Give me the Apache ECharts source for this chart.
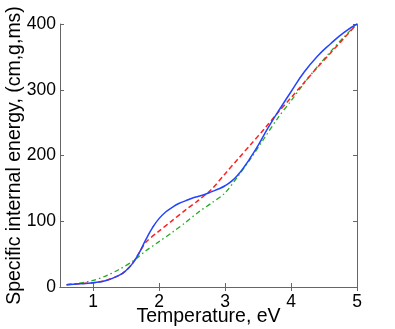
<!DOCTYPE html>
<html>
<head>
<meta charset="utf-8">
<script src="https://cdn.jsdelivr.net/npm/echarts@6/dist/echarts.min.js"></script>
<style>
  html, body { margin: 0; padding: 0; background: #fff; }
  #chart { width: 395px; height: 329px; }
</style>
</head>
<body>
<div id="chart"></div>
<script>
// temperature (eV) and energy values
var blueT = [0.6, 0.8, 1.0, 1.2, 1.4, 1.5, 1.6, 1.7, 1.8, 1.9, 2.0, 2.1, 2.2, 2.3, 2.4, 2.5, 2.6, 2.7, 2.8, 2.9, 3.0, 3.1, 3.2, 3.3, 3.4, 3.5, 3.6, 3.7, 3.8, 4.0, 4.2, 4.4, 4.6, 4.8, 5.0];
var blueE = [3.5, 5, 6.5, 10, 18, 25, 36, 52, 72, 90, 104, 114, 121, 127, 131, 135, 138, 141, 145, 149, 154, 161, 171, 184, 199, 215, 233, 250, 266, 297, 327, 351, 370, 387, 400];

var redT = [0.6, 0.8, 1.0, 1.2, 1.4, 1.5, 1.6, 1.7, 1.8, 2.0, 2.2, 2.4, 2.6, 2.8, 3.0, 3.2, 3.4, 3.6, 3.8, 4.0, 4.2, 4.4, 4.6, 4.8, 5.0];
var redE = [3.5, 5, 6.5, 10, 18, 25, 36, 52, 68, 85, 101, 117, 132, 149, 172, 195, 218, 241, 265, 288, 311, 334, 356, 378, 400];

var greenT = [0.6, 0.8, 1.0, 1.2, 1.4, 1.6, 1.8, 2.0, 2.2, 2.4, 2.6, 2.8, 3.0, 3.2, 3.4, 3.6, 3.8, 4.0, 4.2, 4.4, 4.6, 4.8, 5.0];
var greenE = [3.5, 6, 10, 17, 27, 39, 55, 69, 83, 98, 114, 128, 143, 169, 197, 227, 257, 283, 310, 335, 358, 380, 400];

var xTicks = [1, 2, 3, 4, 5];

function pairs(xs, ys) {
  return xs.map(function (x, i) { return [x, ys[i]]; });
}

var chart = echarts.init(document.getElementById('chart'));

var font = 'Liberation Sans, Arial, sans-serif';
var boxColor = '#666';

chart.setOption({
  animation: false,
  grid: { left: 60, top: 24, right: 38, bottom: 42, outerBoundsMode: 'none', containLabel: false },
  xAxis: [
    {
      type: 'value', min: 0.5, max: 5,
      name: 'Temperature, eV', nameLocation: 'middle', nameGap: 20, nameMoveOverlap: false,
      nameTextStyle: { fontFamily: font, fontSize: 19.5, color: '#000' },
      axisLine: { lineStyle: { color: boxColor } },
      axisTick: { inside: true, length: 4, customValues: xTicks, lineStyle: { color: boxColor } },
      axisLabel: { customValues: xTicks, fontFamily: font, fontSize: 17.5, color: '#000', margin: 6 },
      splitLine: { show: false }
    },
    {
      type: 'value', min: 0.5, max: 5, position: 'top',
      axisLine: { show: true, lineStyle: { color: boxColor } },
      axisTick: { inside: true, length: 4, customValues: xTicks, lineStyle: { color: boxColor } },
      axisLabel: { show: false },
      splitLine: { show: false }
    }
  ],
  yAxis: [
    {
      type: 'value', min: 0, max: 400, interval: 100,
      name: 'Specific internal energy, (cm,g,ms)', nameLocation: 'middle', nameGap: 35, nameMoveOverlap: false,
      nameTextStyle: { fontFamily: font, fontSize: 19.5, color: '#000' },
      axisLine: { show: true, lineStyle: { color: boxColor } },
      axisTick: { inside: true, length: 4, lineStyle: { color: boxColor } },
      axisLabel: { fontFamily: font, fontSize: 17.5, color: '#000', margin: 4 },
      splitLine: { show: false }
    },
    {
      type: 'value', min: 0, max: 400, interval: 100, position: 'right',
      axisLine: { show: true, lineStyle: { color: boxColor } },
      axisTick: { show: true, inside: true, length: 4, lineStyle: { color: boxColor } },
      axisLabel: { show: false },
      splitLine: { show: false }
    }
  ],
  series: [
    {
      type: 'line', data: pairs(greenT, greenE), showSymbol: false, smooth: 0.3,
      lineStyle: { color: '#22aa22', width: 1.3, type: [5, 3, 1.5, 3] }, z: 2
    },
    {
      type: 'line', data: pairs(redT, redE), showSymbol: false, smooth: 0.3,
      lineStyle: { color: '#ff2020', width: 1.5, type: [5, 3] }, z: 3
    },
    {
      type: 'line', data: pairs(blueT, blueE), showSymbol: false, smooth: 0.5,
      lineStyle: { color: '#2244ff', width: 1.5 }, z: 4
    }
  ]
});
</script>
</body>
</html>
